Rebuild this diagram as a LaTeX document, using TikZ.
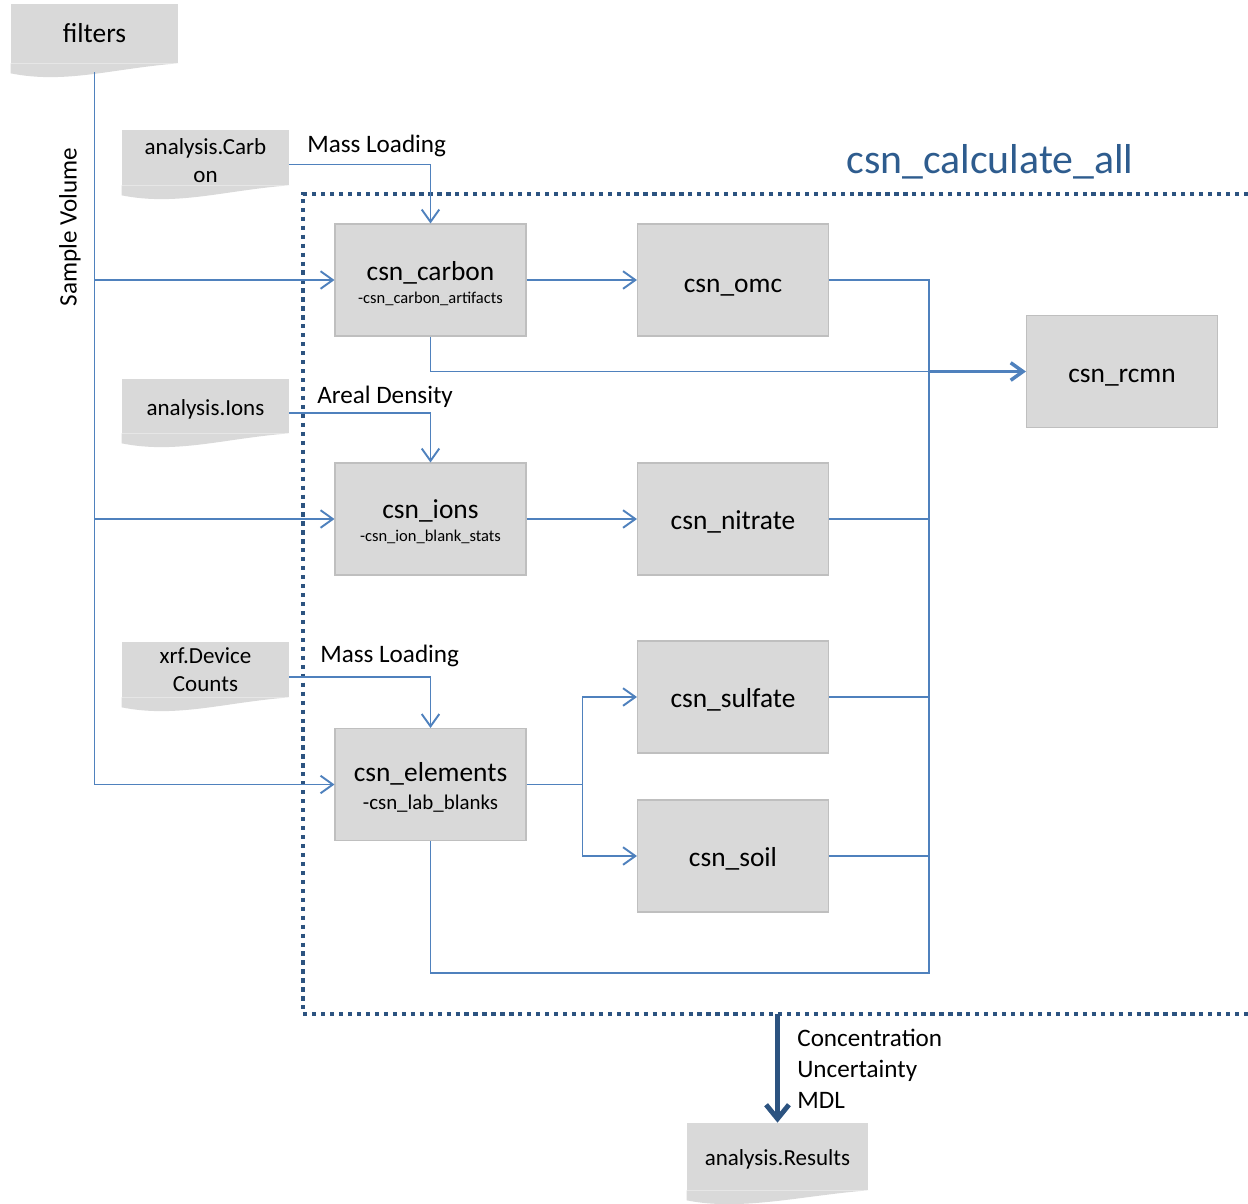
\documentclass[tikz,border=0pt]{standalone}
\usepackage{fontspec}
\setmainfont{Carlito}
\usetikzlibrary{arrows.meta}
\definecolor{flowblue}{HTML}{4F81BD}
\definecolor{darkblue}{HTML}{2C5380}
\definecolor{titleblue}{HTML}{2E5C8E}
\definecolor{boxgray}{HTML}{D9D9D9}
\definecolor{edgegray}{HTML}{BFBFBF}
\newcommand{\docwave}[1]{%
  \fill[boxgray] (#1.south west) -- ++(0,-0.2cm) .. controls +(1.1cm,-0.22cm) and +(-1.3cm,-0.1cm) .. (#1.south east) -- cycle;}
\newcommand{\subtxt}[1]{{\fontsize{9.4}{11}\selectfont #1}}
\newcommand{\tstrut}[1]{\rule{0pt}{#1}}

\begin{document}
\begin{tikzpicture}[
		x=0.02cm,y=-0.02cm,
		>={Straight Barb[length=7pt,width=10pt]},
		box/.style={fill=boxgray,draw=edgegray,line width=0.6pt,minimum width=3.82cm,minimum height=2.24cm,inner sep=0pt,align=center,font=\fontsize{15.6}{13}\selectfont},
		doc/.style={fill=boxgray,minimum width=3.34cm,inner sep=0pt,align=center,font=\fontsize{13.1}{15.9}\selectfont},
		lbl/.style={font=\fontsize{14.3}{17.6}\selectfont,inner sep=0pt},
		wire/.style={flowblue,line width=1.1pt},
		flow/.style={wire,->},
		bigflow/.style={darkblue,line width=2.8pt,-{Straight Barb[length=8pt,width=13pt]}},
		frame/.style={darkblue,line width=2.4pt,dash pattern=on 2.4pt off 2.7pt}]
	\useasboundingbox (0,0) rectangle (1248,1204);
	%% input documents
	\node[doc,minimum height=1.18cm] (filters) at (94.5,33.5) {\fontsize{15.6}{18}\selectfont filters};
	\node[doc,minimum height=1.1cm] (carb) at (205.5,157.5) {\tstrut{12.5pt}analysis.Carb\\on};
	\node[doc,minimum height=1.08cm] (ionsin) at (205.5,406) {\tstrut{12.5pt}analysis.Ions};
	\node[doc,minimum height=1.1cm] (xrf) at (205.5,669.5) {xrf.Device\\Counts};
	\node[doc,minimum width=3.62cm,minimum height=1.34cm] (results) at (777.5,1156.5) {\tstrut{12.5pt}analysis.Results};
	\docwave{filters}
	\docwave{carb}
	\docwave{ionsin}
	\docwave{xrf}
	\docwave{results}
	%% frame
	\coordinate (ftl) at (303,194);
	\coordinate (fbl) at (303,1014);
	\draw[frame] (1248,194) -- (ftl) -- (fbl) -- (1248,1014);
	\node[font=\fontsize{23.8}{28}\selectfont,text=titleblue,inner sep=0pt] (calcall) at (990,162) {csn\_calculate\_all};
	%% functions
	\node[box] (carbon) at (430.5,280) {\tstrut{14.5pt}csn\_carbon\\\subtxt{-csn\_carbon\_artifacts}};
	\node[box] (omc) at (733,280) {\tstrut{16pt}csn\_omc};
	\node[box] (rcmn) at (1122,371.5) {\tstrut{15pt}csn\_rcmn};
	\node[box] (ions) at (430.5,519) {\tstrut{14pt}csn\_ions\\\subtxt{-csn\_ion\_blank\_stats}};
	\node[box] (nitrate) at (733,519) {\tstrut{13.5pt}csn\_nitrate};
	\node[box] (sulfate) at (733,697) {\tstrut{13.5pt}csn\_sulfate};
	\node[box] (elements) at (430.5,784.5) {\tstrut{14pt}csn\_elements\\[3pt]{\fontsize{11.9}{13}\selectfont -csn\_lab\_blanks}};
	\node[box] (soil) at (733,856) {\tstrut{13.5pt}csn\_soil};
	\coordinate (bus) at (929,973);
	%% labels
	\node[lbl,rotate=90] (sv) at (70,227) {Sample Volume};
	\node[lbl,anchor=west] (massc) at (307,146) {Mass Loading};
	\node[lbl,anchor=west] (areal) at (317,397) {Areal Density};
	\node[lbl,anchor=west] (massx) at (320,656) {Mass Loading};
	\node[lbl,anchor=west,align=left] (outs) at (797,1069) {Concentration\\Uncertainty\\MDL};
	%% inputs
	\draw[flow] ([yshift=-5pt]filters.south) -- (filters.south |- elements.west) -- (elements.west);
	\draw[flow] (filters.south |- carbon.west) -- (carbon.west);
	\draw[flow] (filters.south |- ions.west) -- (ions.west);
	\draw[flow] ([yshift=-4pt]carb.east) -| (carbon.north);
	\draw[flow] ([yshift=-4pt]ionsin.east) -| (ions.north);
	\draw[flow] ([yshift=-4pt]xrf.east) -| (elements.north);
	%% inner flow
	\draw[flow] (carbon.east) -- (omc.west);
	\draw[flow] (ions.east) -- (nitrate.west);
	\draw[wire] (elements.east) -- ++(56,0) coordinate (split);
	\draw[flow] (split) |- (sulfate.west);
	\draw[flow] (split) |- (soil.west);
	%% collect
	\draw[wire] (omc.east) -| (bus) -| (elements.south);
	\draw[wire] (nitrate.east) -- (nitrate.east -| bus);
	\draw[wire] (sulfate.east) -- (sulfate.east -| bus);
	\draw[wire] (soil.east) -- (soil.east -| bus);
	\draw[wire] (carbon.south) |- (rcmn.west -| bus);
	\draw[flow,line width=2pt] (rcmn.west -| bus) -- (rcmn.west);
	\draw[bigflow] (fbl -| results.north) -- (results.north);
\end{tikzpicture}
\end{document}
